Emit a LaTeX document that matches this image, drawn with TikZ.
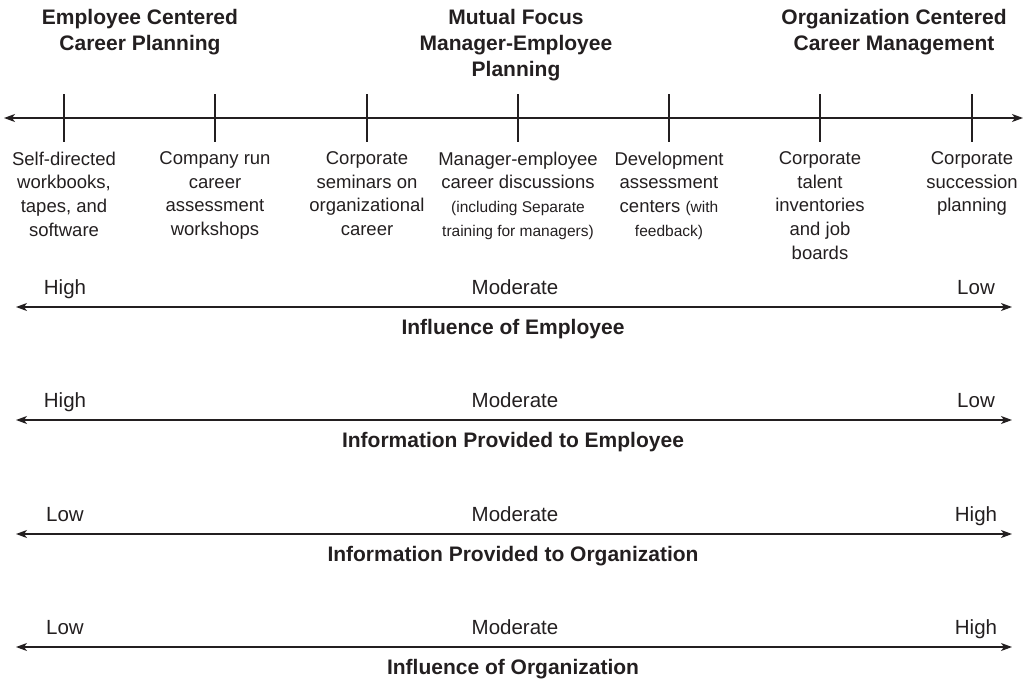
\documentclass[tikz,border=0pt]{standalone}
\usepackage{fontspec}
\setmainfont{Liberation Sans}
\usetikzlibrary{arrows.meta}
\definecolor{ink}{HTML}{231F20}
\newcommand\smalltext{\fontsize{15.5}{23.7}\selectfont}
\begin{document}
\begin{tikzpicture}[x=1pt,y=-1pt,
  axis/.style={line width=1.2pt, draw=ink, {Stealth[length=11pt,width=8pt,inset=3pt]}-{Stealth[length=11pt,width=8pt,inset=3pt]}},
  tickline/.style={line width=1.2pt, draw=ink},
  heading/.style={font=\fontsize{21}{26}\selectfont\bfseries, align=center, anchor=north, inner sep=0pt, text=ink},
  item/.style={font=\fontsize{18.5}{23.7}\selectfont, align=center, anchor=north, inner sep=0pt, text=ink},
  level/.style={font=\fontsize{20.5}{24}\selectfont, anchor=base, inner sep=0pt, text=ink},
  axislabel/.style={font=\fontsize{21}{26}\selectfont\bfseries, anchor=base, inner sep=0pt, text=ink}]
\useasboundingbox (0,0) rectangle (1025,681);

% headings
\node[heading] (h1) at (140,9.5) {Employee Centered\\Career Planning};
\node[heading] (h2) at (516,9.5) {Mutual Focus\\Manager-Employee\\Planning};
\node[heading] (h3) at (894,9.5) {Organization Centered\\Career Management};

% top axis
\coordinate (tl) at (4,118);
\coordinate (tr) at (1023,118);
\draw[axis] (tl) -- (tr);
\foreach \x in {64,215,367,518,669,820,972}
  \draw[tickline] (\x,94) -- (\x,142);

% column texts
\node[item] (c1) at (64,151.4) {Self-directed\\workbooks,\\tapes, and\\software};
\node[item] (c2) at (215,151.4) {Company run\\career\\assessment\\workshops};
\node[item] (c3) at (367,151.4) {Corporate\\seminars on\\organizational\\career};
\node[item] (c4) at (518,151.4) {Manager-employee\\career discussions\\{\smalltext (including Separate}\\{\smalltext training for managers)}};
\node[item] (c5) at (669,151.4) {Development\\assessment\\centers {\smalltext (with}\\{\smalltext feedback)}};
\node[item] (c6) at (820,151.4) {Corporate\\talent\\inventories\\and job\\boards};
\node[item] (c7) at (972,151.4) {Corporate\\succession\\planning};

% scales
\foreach \y/\l/\r/\t [count=\i] in {307/High/Low/Influence of Employee,
                          420/High/Low/Information Provided to Employee,
                          534/Low/High/Information Provided to Organization,
                          647/Low/High/Influence of Organization}{
  \coordinate (a\i l) at (16,\y);
  \coordinate (a\i r) at (1012,\y);
  \draw[axis] (a\i l) -- (a\i r);
  \node[level] (l\i a) at (65,\y-13) {\l};
  \node[level] (l\i b) at (515,\y-13) {Moderate};
  \node[level] (l\i c) at (976,\y-13) {\r};
  \node[axislabel] (t\i) at (513,\y+27.5) {\t};
}
\end{tikzpicture}
\end{document}
